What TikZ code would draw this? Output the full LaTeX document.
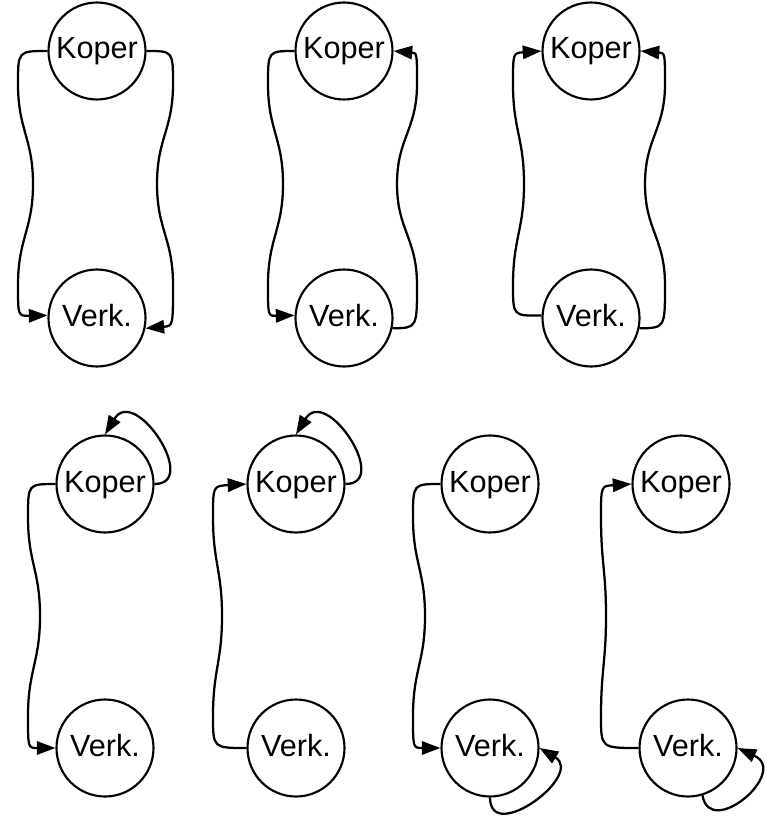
\documentclass[tikz,border=0pt]{standalone}
\usepackage{fontspec}
\setmainfont{Liberation Sans}
\usetikzlibrary{arrows.meta}
\begin{document}
\begin{tikzpicture}[x=0.75pt,y=-0.75pt,
  mstate/.style={circle,draw,line width=1.6pt,minimum size=72.75pt,inner sep=0pt,
    font=\fontsize{23}{27}\selectfont,text height=14pt,text depth=2pt},
  conn/.style={line width=1.7pt},
  fwd/.style={conn,-{Triangle[length=14pt,width=10pt]}},
  bwd/.style={conn,{Triangle[length=14pt,width=10pt]}-}]
\useasboundingbox (0,0) rectangle (765,820);

% top row: three Koper/Verk pairs
\node[mstate] (k1) at (97,51) {Koper};
\node[mstate] (v1) at (97,318) {Verk.};
\node[mstate] (k2) at (344,51) {Koper};
\node[mstate] (v2) at (344,318) {Verk.};
\node[mstate] (k3) at (591,51) {Koper};
\node[mstate] (v3) at (591,318) {Verk.};

% bottom row: four pairs
\node[mstate] (k4) at (105,484) {Koper};
\node[mstate] (v4) at (105,748) {Verk.};
\node[mstate] (k5) at (296,484) {Koper};
\node[mstate] (v5) at (296,748) {Verk.};
\node[mstate] (k6) at (490,484) {Koper};
\node[mstate] (v6) at (490,748) {Verk.};
\node[mstate] (k7) at (681,484) {Koper};
\node[mstate] (v7) at (688,748) {Verk.};

% pair 1: both Koper -> Verk
\draw[fwd] (k1.west) .. controls (18,51) .. (18,84)
  .. controls (18,130) and (33,138) .. (33,184)
  .. controls (33,230) and (18,238) .. (18,285)
  .. controls (18,316) .. (v1.177);
\draw[fwd] (k1.east) .. controls (173,51) .. (173,84)
  .. controls (173,130) and (157,138) .. (157,184)
  .. controls (157,230) and (173,238) .. (173,285)
  .. controls (173,326) .. (v1.-12);

% pair 2: Koper -> Verk on the left, Verk -> Koper on the right
\draw[fwd] (k2.west) .. controls (268,51) .. (268,84)
  .. controls (268,130) and (283,138) .. (283,184)
  .. controls (283,230) and (268,238) .. (268,285)
  .. controls (268,316) .. (v2.177);
\draw[bwd] (k2.east) .. controls (417,53) .. (417,84)
  .. controls (417,130) and (397,138) .. (397,184)
  .. controls (397,230) and (417,238) .. (417,285)
  .. controls (417,328) .. (v2.-12);

% pair 3: both Verk -> Koper
\draw[bwd] (k3.west) .. controls (513,53) .. (513,84)
  .. controls (513,130) and (524,138) .. (524,184)
  .. controls (524,230) and (513,238) .. (513,285)
  .. controls (513,316) .. (v3.177);
\draw[bwd] (k3.east) .. controls (665,53) .. (665,84)
  .. controls (665,130) and (645,138) .. (645,184)
  .. controls (645,230) and (665,238) .. (665,285)
  .. controls (665,328) .. (v3.-12);

% pair 4: Koper -> Verk, loop on Koper
\draw[fwd] (k4.west) .. controls (28,484) .. (28,517)
  .. controls (28,563) and (40,570) .. (40,616)
  .. controls (40,662) and (28,670) .. (28,716)
  .. controls (28,748) .. (v4.west);
\draw[fwd] (k4.east) .. controls (200,484) and (135,385) .. (k4.north);

% pair 5: Verk -> Koper, loop on Koper
\draw[bwd] (k5.west) .. controls (213,486) .. (213,517)
  .. controls (213,563) and (222,570) .. (222,616)
  .. controls (222,662) and (213,670) .. (213,716)
  .. controls (213,748) .. (v5.west);
\draw[fwd] (k5.east) .. controls (391,484) and (326,385) .. (k5.north);

% pair 6: Koper -> Verk, loop on Verk
\draw[fwd] (k6.west) .. controls (413,484) .. (413,517)
  .. controls (413,563) and (425,570) .. (425,616)
  .. controls (425,662) and (413,670) .. (413,716)
  .. controls (413,748) .. (v6.west);
\draw[fwd] (v6.south) .. controls (490,845) and (585,775) .. (v6.east);

% pair 7: Verk -> Koper, loop on Verk
\draw[bwd] (k7.west) .. controls (601,486) .. (601,517)
  .. controls (601,563) and (606,570) .. (606,616)
  .. controls (606,662) and (601,670) .. (601,716)
  .. controls (601,748) .. (v7.west);
\draw[fwd] (v7.-73) .. controls (710,840) and (790,772) .. (v7.east);
\end{tikzpicture}
\end{document}
